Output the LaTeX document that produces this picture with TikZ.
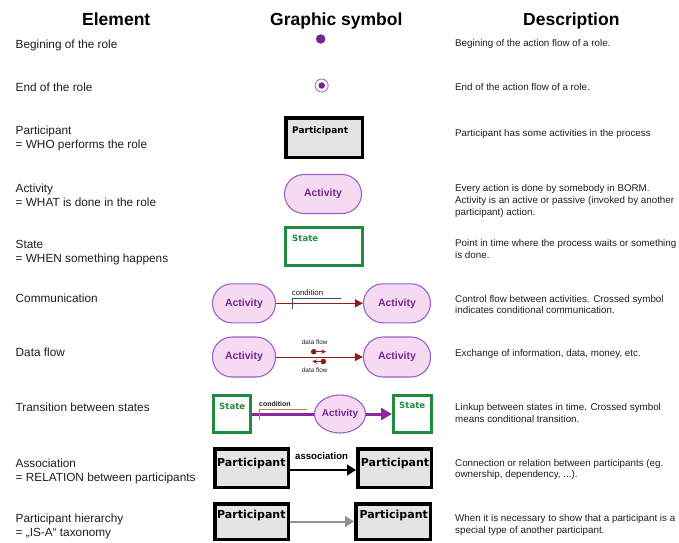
\documentclass[tikz,border=0pt]{standalone}
\usepackage{fontspec}
\setmainfont{Liberation Sans}
\newfontfamily\dejavu{DejaVu Sans}
\usetikzlibrary{arrows.meta,shapes.geometric}

\definecolor{inkgray}{RGB}{30,30,30}
\definecolor{bormpurple}{RGB}{112,40,140}
\definecolor{ringpurple}{RGB}{160,100,195}
\definecolor{actfill}{RGB}{246,218,242}
\definecolor{actdraw}{RGB}{150,100,200}
\definecolor{acttext}{RGB}{120,40,145}
\definecolor{stgreen}{RGB}{30,140,60}
\definecolor{partfill}{RGB}{228,228,228}
\definecolor{flowred}{RGB}{140,30,30}
\definecolor{condteal}{RGB}{40,85,100}
\definecolor{condorange}{RGB}{195,125,60}
\definecolor{transpurple}{RGB}{140,40,155}
\definecolor{isagray}{RGB}{145,145,145}

\begin{document}
\begin{tikzpicture}[x=1pt,y=-1pt,
  txt/.style={inner sep=0pt,anchor=base west,text=inkgray},
  hdr/.style={txt,font=\fontsize{17.5}{20}\selectfont\bfseries,text=black},
  elem/.style={txt,font=\fontsize{11.8}{14}\selectfont},
  desc/.style={txt,font=\fontsize{9.8}{11.5}\selectfont},
  begdot/.style={circle,fill=bormpurple,minimum size=9.5pt,inner sep=0pt},
  endring/.style={circle,draw=ringpurple,line width=0.8pt,fill=white,minimum size=13pt,inner sep=0pt},
  enddot/.style={circle,fill=bormpurple,minimum size=6.5pt,inner sep=0pt},
  partbox/.style={rectangle,draw=black,line width=3.5pt,fill=partfill,inner sep=0pt},
  partlbl/.style={txt,text=black,font=\dejavu\bfseries\fontsize{11}{13}\selectfont},
  actbox/.style={rectangle,rounded corners=19.5pt,draw=actdraw,line width=1.1pt,fill=actfill,
    text=acttext,font=\bfseries\fontsize{10.5}{12}\selectfont,inner sep=0pt},
  actoval/.style={ellipse,draw=actdraw,line width=1.1pt,fill=actfill,
    text=acttext,font=\bfseries\fontsize{10}{12}\selectfont,inner sep=0pt},
  stbox/.style={rectangle,draw=stgreen,line width=3pt,fill=white,inner sep=0pt},
  stlbl/.style={txt,text=stgreen,font=\dejavu\bfseries\fontsize{8.6}{10}\selectfont},
  smalltxt/.style={txt,text=inkgray,font=\fontsize{7.8}{9}\selectfont},
  tinytxt/.style={txt,text=inkgray,font=\fontsize{6.4}{8}\selectfont},
  comm/.style={draw=flowred,line width=0.9pt,-{Triangle[length=8pt,width=8pt]}},
  dflow/.style={draw=flowred,line width=0.8pt,{Circle[length=5.5pt]}-{Stealth[length=4.5pt,width=4.5pt]}},
  trans/.style={draw=transpurple,line width=3pt},
  assoc/.style={draw=black,line width=1.6pt,-{Triangle[length=9pt,width=11pt]}},
  isa/.style={draw=isagray,line width=2pt,-{Triangle[length=9pt,width=11pt]}}
]
\useasboundingbox (0,0) rectangle (679,542);

% column headers
\node[hdr] (hElem) at (82,25.5) {Element};
\node[hdr] (hSym)  at (270,25.5) {Graphic symbol};
\node[hdr] (hDesc) at (523,25.5) {Description};

% element names
\node[elem] (e1)  at (15.5,48) {Begining of the role};
\node[elem] (e2)  at (15.5,91.5) {End of the role};
\node[elem] (e3a) at (15.5,134) {Participant};
\node[elem] (e3b) at (15.5,148) {= WHO performs the role};
\node[elem] (e4a) at (15.5,192.5) {Activity};
\node[elem] (e4b) at (15.5,206.5) {= WHAT is done in the role};
\node[elem] (e5a) at (15.5,248) {State};
\node[elem] (e5b) at (15.5,262) {= WHEN something happens};
\node[elem] (e6)  at (15.5,302.7) {Communication};
\node[elem] (e7)  at (15.5,356.7) {Data flow};
\node[elem] (e8)  at (15.5,411.7) {Transition between states};
\node[elem] (e9a) at (15.5,467.3) {Association};
\node[elem] (e9b) at (15.5,481.7) {= RELATION between participants};
\node[elem] (e10a) at (15.5,522) {Participant hierarchy};
\node[elem] (e10b) at (15.5,536) {= „IS-A“ taxonomy};

% descriptions
\node[desc] (d1)  at (455,46) {Begining of the action flow of a role.};
\node[desc] (d2)  at (455,90.7) {End of the action flow of a role.};
\node[desc] (d3)  at (455,136.5) {Participant has some activities in the process};
\node[desc] (d4a) at (455,191.5) {Every action is done by somebody in BORM.};
\node[desc] (d4b) at (455,203.5) {Activity is an active or passive (invoked by another};
\node[desc] (d4c) at (455,215.5) {participant) action.};
\node[desc] (d5a) at (455,246.5) {Point in time where the process waits or something};
\node[desc] (d5b) at (455,258) {is done.};
\node[desc] (d6a) at (455,302) {Control flow between activities. Crossed symbol};
\node[desc] (d6b) at (455,313.5) {indicates conditional communication.};
\node[desc] (d7)  at (455,356.5) {Exchange of information, data, money, etc.};
\node[desc] (d8a) at (455,410.5) {Linkup between states in time. Crossed symbol};
\node[desc] (d8b) at (455,422) {means conditional transition.};
\node[desc] (d9a) at (455,466.5) {Connection or relation between participants (eg.};
\node[desc] (d9b) at (455,477.5) {ownership, dependency, ...).};
\node[desc] (d10a) at (455,521.5) {When it is necessary to show that a participant is a};
\node[desc] (d10b) at (455,533) {special type of another participant.};

% begin and end of the role
\node[begdot] (beg) at (320.7,39) {};
\node[endring] (endr) at (321.7,85.5) {};
\node[enddot] (endd) at (321.7,85.5) {};

% participant, activity, state
\node[partbox,minimum width=76.5pt,minimum height=39.5pt] (p0) at (324,137.5) {};
\node[partlbl,font=\dejavu\bfseries\fontsize{9}{11}\selectfont] (p0t) at (292,133) {Participant};
\node[actbox,minimum width=77pt,minimum height=39pt] (a0) at (323,194) {Activity};
\node[stbox,minimum width=77pt,minimum height=38pt] (s0) at (324,246.5) {};
\node[stlbl] (s0t) at (292,241.5) {State};

% communication
\node[actbox,minimum width=63pt,minimum height=39pt] (ca1) at (244,303.3) {Activity};
\node[actbox,minimum width=67pt,minimum height=39pt] (ca2) at (397,303.3) {Activity};
\draw[comm] (ca1.east) -- (ca2.west);
\draw[condteal,line width=0.9pt] (292.3,308.5) -- (292.3,298.3) -- (340.7,298.3);
\node[smalltxt] (cc) at (291.7,295.5) {condition};

% data flow
\node[actbox,minimum width=63pt,minimum height=40pt] (da1) at (244,357) {Activity};
\node[actbox,minimum width=67pt,minimum height=40pt] (da2) at (397,357) {Activity};
\draw[comm] (da1.east) -- (da2.west);
\node[tinytxt] (dft) at (301.7,344.3) {data flow};
\coordinate (dfa) at (311,351.7);
\coordinate (dfb) at (326,351.7);
\coordinate (dfc) at (326,361.5);
\coordinate (dfd) at (312.3,361.5);
\draw[dflow] (dfa) -- (dfb);
\draw[dflow] (dfc) -- (dfd);
\node[tinytxt] (dfbt) at (301.7,372.7) {data flow};

% transition between states
\node[stbox,minimum width=37pt,minimum height=37pt] (ts1) at (232,414) {};
\node[stlbl] (ts1t) at (219,409.3) {State};
\node[actoval,minimum width=46pt,minimum height=38pt] (ta) at (340,414) {Activity};
\node[stbox,minimum width=38pt,minimum height=37pt] (ts2) at (412.5,414) {};
\node[stlbl] (ts2t) at (399,408.8) {State};
\draw[trans] (ts1.east) -- (ta.west);
\draw[trans,-{Triangle[length=11pt,width=12pt]}] (ta.east) -- (ts2.west);
\draw[condorange,line width=0.9pt] (259.3,419.5) -- (259.3,409.3) -- (306.7,409.3);
\node[smalltxt,font=\bfseries\fontsize{7}{8}\selectfont] (tc) at (259,406) {condition};

% association
\node[partbox,minimum width=73.5pt,minimum height=38.5pt] (ap1) at (251.5,468) {};
\node[partlbl] (ap1t) at (217,466) {Participant};
\node[partbox,minimum width=73.5pt,minimum height=38.5pt] (ap2) at (394.5,468) {};
\node[partlbl] (ap2t) at (360.7,466) {Participant};
\draw[assoc] (ap1.east |- 0,470) -- (ap2.west |- 0,470);
\node[txt,text=black,font=\bfseries\fontsize{9.6}{11}\selectfont] (at) at (295,459) {association};

% participant hierarchy
\node[partbox,minimum width=73.5pt,minimum height=35.5pt] (hp1) at (251.5,521.5) {};
\node[partlbl] (hp1t) at (217,518.3) {Participant};
\node[partbox,minimum width=74.5pt,minimum height=35.5pt] (hp2) at (393,521.5) {};
\node[partlbl] (hp2t) at (359.3,518.3) {Participant};
\draw[isa] (hp1.east) -- (hp2.west);
\end{tikzpicture}
\end{document}
